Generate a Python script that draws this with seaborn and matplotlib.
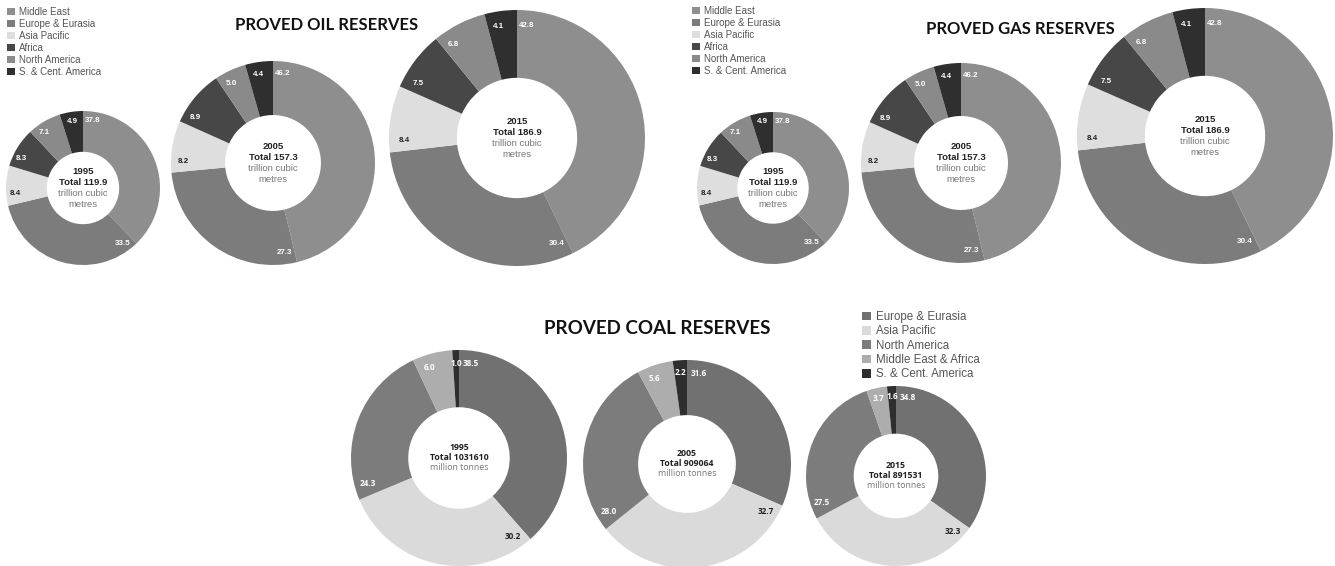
import matplotlib
matplotlib.use("Agg")
import matplotlib.pyplot as plt
from matplotlib.patches import Patch
import numpy as np
import seaborn as sns

# values (shares in %)
oil_regions = ["Middle East", "Europe & Eurasia", "Asia Pacific", "Africa",
               "North America", "S. & Cent. America"]
oil_years = ["1995", "2005", "2015"]
oil_totals = ["119.9", "157.3", "186.9"]
oil_shares = [
    [37.8, 33.5, 8.4, 8.3, 7.1, 4.9],
    [46.2, 27.3, 8.2, 8.9, 5.0, 4.4],
    [42.8, 30.4, 8.4, 7.5, 6.8, 4.1],
]

gas_regions = ["Middle East", "Europe & Eurasia", "Asia Pacific", "Africa",
               "North America", "S. & Cent. America"]
gas_years = ["1995", "2005", "2015"]
gas_totals = ["119.9", "157.3", "186.9"]
gas_shares = [
    [37.8, 33.5, 8.4, 8.3, 7.1, 4.9],
    [46.2, 27.3, 8.2, 8.9, 5.0, 4.4],
    [42.8, 30.4, 8.4, 7.5, 6.8, 4.1],
]

coal_regions = ["Europe & Eurasia", "Asia Pacific", "North America",
                "Middle East & Africa", "S. & Cent. America"]
coal_years = ["1995", "2005", "2015"]
coal_totals = ["1031610", "909064", "891531"]
coal_shares = [
    [38.5, 30.2, 24.3, 6.0, 1.0],
    [31.6, 32.7, 28.0, 5.6, 2.2],
    [34.8, 32.3, 27.5, 3.7, 1.6],
]

# styling / layout
W, H = 1335, 566
HOLE = 0.47
sns.set_theme(style="white")
plt.rcParams["font.family"] = ["Liberation Sans", "DejaVu Sans"]

oil_colors = sns.color_palette(["#8e8e8e", "#7c7c7c", "#dedede", "#474747", "#8a8a8a", "#2f2f2f"])
oil_txt = ["white", "white", "#222222", "white", "white", "white"]
coal_colors = sns.color_palette(["#717171", "#dadada", "#7c7c7c", "#adadad", "#2e2e2e"])
coal_txt = ["white", "#222222", "white", "white", "white"]

oil_pos = [(83, 188, 77), (273, 163, 102), (517, 138, 128)]
gas_pos = [(773, 188, 76), (961, 163, 100), (1205, 136, 128)]
coal_pos = [(459, 458, 108), (687, 464, 104), (896, 476, 90)]

fig = plt.figure(figsize=(W / 100, H / 100), dpi=100)


def donut(cx, cy, R, shares, colors, txt_colors, lines, lab_font, lab_size,
          lab_off, c_font, c_size, c_step):
    ax = fig.add_axes([(cx - R) / W, (H - cy - R) / H, 2 * R / W, 2 * R / H])
    ax.pie(shares, colors=colors, startangle=90, counterclock=False, radius=1,
           wedgeprops=dict(width=1 - HOLE, linewidth=0))
    ax.set_aspect("auto")
    ax.set_xlim(-1, 1)
    ax.set_ylim(-1, 1)
    ax.axis("off")
    total = sum(shares)
    start = 0.0
    rr = 0.88
    for v, tc in zip(shares, txt_colors):
        span = v / total * 360
        d = min(span / 2, np.degrees(lab_off / (rr * R)))
        a = np.radians(start + d)
        ax.text(rr * np.sin(a), rr * np.cos(a), f"{v:.1f}", color=tc,
                fontsize=lab_size, fontweight="bold", family=lab_font,
                ha="center", va="center")
        start += span
    n = len(lines)
    for i, (s, bold) in enumerate(lines):
        off = ((n - 1) / 2 - i) * c_step / R
        ax.text(0, off, s, ha="center", va="center", family=c_font,
                fontsize=c_size, fontweight="bold" if bold else "normal",
                color="#222222" if bold else "#777777")


for (cx, cy, R), sh, yr, tot in zip(oil_pos, oil_shares, oil_years, oil_totals):
    donut(cx, cy, R, sh, oil_colors, oil_txt,
          [(yr, True), (f"Total {tot}", True), ("trillion cubic", False), ("metres", False)],
          "Liberation Sans", 5.8, 10, "Liberation Sans", 6.8, 11)

for (cx, cy, R), sh, yr, tot in zip(gas_pos, gas_shares, gas_years, gas_totals):
    donut(cx, cy, R, sh, oil_colors, oil_txt,
          [(yr, True), (f"Total {tot}", True), ("trillion cubic", False), ("metres", False)],
          "Liberation Sans", 5.8, 10, "Liberation Sans", 6.8, 11)

for (cx, cy, R), sh, yr, tot in zip(coal_pos, coal_shares, coal_years, coal_totals):
    donut(cx, cy, R, sh, coal_colors, coal_txt,
          [(yr, True), (f"Total {tot}", True), ("million tonnes", False)],
          "Open Sans", 5.9, 12, "Open Sans", 6.3, 10)

# titles
fig.text(327 / W, 1 - 25 / H, "PROVED OIL RESERVES", ha="center", va="center",
         family="Lato", fontweight="bold", fontsize=12, color="#111111")
fig.text(1020 / W, 1 - 29 / H, "PROVED GAS RESERVES", ha="center", va="center",
         family="Lato", fontweight="bold", fontsize=12, color="#111111")
fig.text(657 / W, 1 - 328 / H, "PROVED COAL RESERVES", ha="center", va="center",
         family="Lato", fontweight="bold", fontsize=13.5, color="#111111")


def legend(labels, colors, x, y, size):
    handles = [Patch(facecolor=c, edgecolor="none", label=l) for l, c in zip(labels, colors)]
    fig.legend(handles=handles, loc="upper left", bbox_to_anchor=(x / W, 1 - y / H),
               frameon=False, fontsize=size, handlelength=0.8, handleheight=0.8,
               handletextpad=0.4, labelspacing=0.2, borderpad=0, borderaxespad=0,
               labelcolor="#555555")


legend(oil_regions, oil_colors, 7, 7, 7)
legend(gas_regions, oil_colors, 692, 6, 7)
legend(coal_regions, coal_colors, 862, 311, 8.3)

fig.savefig("out.png", dpi=100)
